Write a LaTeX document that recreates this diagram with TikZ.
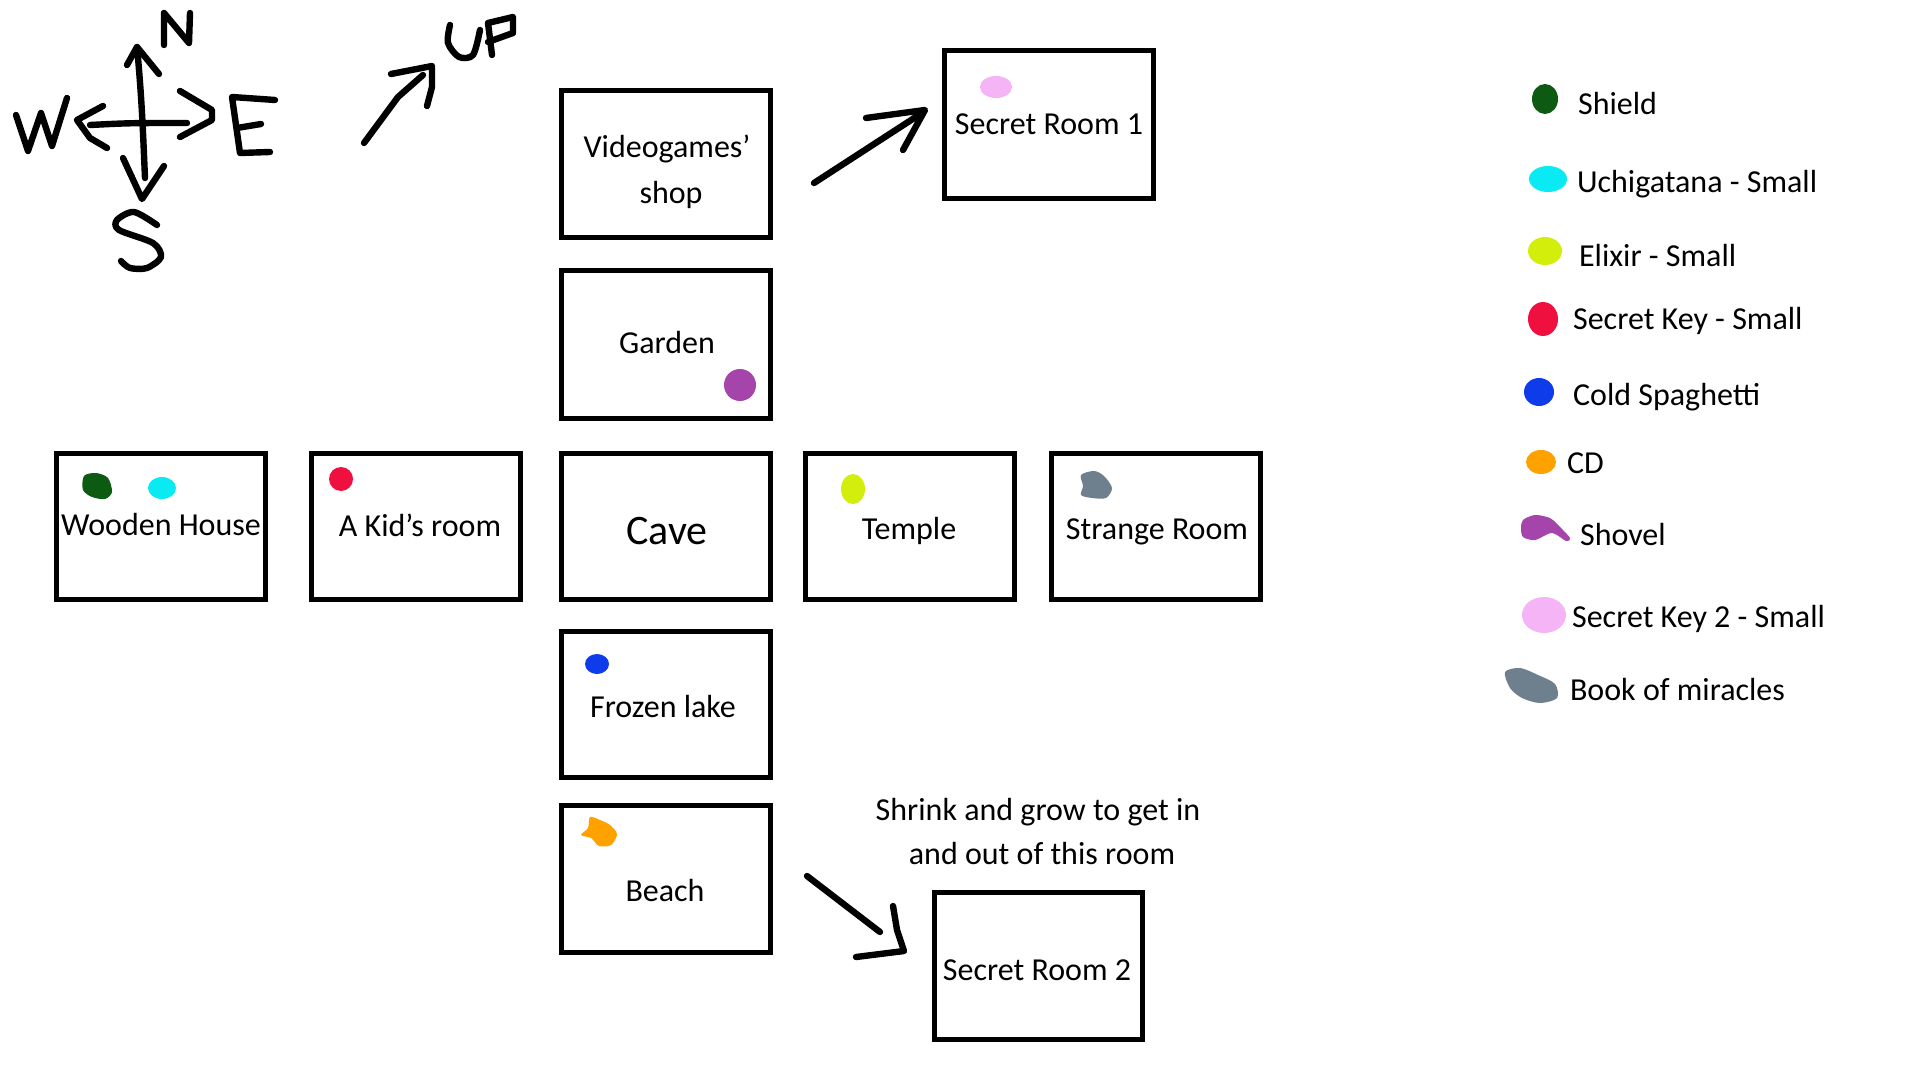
\documentclass[tikz,border=0pt]{standalone}
\usepackage{fontspec}
\setmainfont{Carlito}
\usepackage{tikz}
\usetikzlibrary{shapes.geometric}
\definecolor{shieldgreen}{HTML}{0D5A12}
\definecolor{swordcyan}{HTML}{0AEAF2}
\definecolor{elixirlime}{HTML}{D2EE0A}
\definecolor{keyred}{HTML}{F0103F}
\definecolor{spaghettiblue}{HTML}{0F3CEB}
\definecolor{cdorange}{HTML}{FFA200}
\definecolor{shovelpurple}{HTML}{A545AB}
\definecolor{keypink}{HTML}{F5B4F5}
\definecolor{bookgrey}{HTML}{6E7F8E}
\tikzset{
    roomtext/.style={font=\fontsize{16}{18}\selectfont, align=center},
    legendtext/.style={font=\fontsize{16}{18}\selectfont, anchor=west},
    room/.style={draw, line width=2.5pt},
    ink/.style={line width=3.2pt, line cap=round, line join=round},
    blob/.style={ellipse, inner sep=0pt}
}
\begin{document}
\begin{tikzpicture}[x=0.5pt,y=-0.5pt]
    \useasboundingbox (0,0) rectangle (1920,1080);

    % Draw the rooms
    \draw[room] (561,91) rectangle (770,238);
    \node[roomtext] (videogames) at (667,172) {Videogames'\\[5pt]\hspace{4pt}shop};
    \draw[room] (561,271) rectangle (770,418);
    \node[roomtext] (garden) at (667,343) {Garden};
    \draw[room] (56,453) rectangle (265,599);
    \node[roomtext] (wooden) at (161,525) {Wooden House};
    \draw[room] (311,453) rectangle (520,599);
    \node[roomtext] (kid) at (420,525) {A Kid's room};
    \draw[room] (561,453) rectangle (770,599);
    \node[roomtext, font=\fontsize{21}{24}\selectfont] (cave) at (667,531) {Cave};
    \draw[room] (805,453) rectangle (1014,599);
    \node[roomtext] (temple) at (909,531) {Temple};
    \draw[room] (1051,453) rectangle (1260,599);
    \node[roomtext] (strange) at (1157,532) {Strange Room};
    \draw[room] (561,631) rectangle (770,777);
    \node[roomtext] (frozen) at (663,707) {Frozen lake};
    \draw[room] (561,805) rectangle (770,952);
    \node[roomtext] (beach) at (665,890) {Beach};
    \draw[room] (944,51) rectangle (1153,199);
    \node[roomtext] (secretone) at (1049,124) {Secret Room 1};
    \draw[room] (934,892) rectangle (1142,1039);
    \node[roomtext] (secrettwo) at (1037,970) {Secret Room 2};
    \node[roomtext] (shrink) at (1038,812) {Shrink and grow to get in};
    \node[roomtext] (andout) at (1042,853) {and out of this room};

    % Items inside the rooms
    \node[blob, fill=keypink, minimum width=16pt, minimum height=11pt] (pinkroom) at (996,87) {};
    \node[blob, fill=shovelpurple, minimum width=16pt, minimum height=16pt] (purpleroom) at (740,385) {};
    \fill[shieldgreen] plot[smooth cycle] coordinates {(84,476) (96,473) (108,478) (112,492) (105,499) (92,497) (83,490)};
    \node[blob, fill=swordcyan, minimum width=14pt, minimum height=11pt] (cyanroom) at (162,488) {};
    \node[blob, fill=keyred, minimum width=12pt, minimum height=12pt] (redroom) at (341,479) {};
    \node[blob, fill=elixirlime, minimum width=12pt, minimum height=15pt] (limeroom) at (853,489) {};
    \fill[bookgrey] plot[smooth cycle] coordinates {(1081,475) (1094,471) (1104,476) (1112,488) (1106,498) (1092,498) (1081,495) (1083,486)};
    \node[blob, fill=spaghettiblue, minimum width=12pt, minimum height=10pt] (blueroom) at (597,664) {};
    \fill[cdorange] plot[smooth cycle] coordinates {(590,817) (600,820) (610,825) (617,834) (611,845) (599,846) (591,838) (581,835) (588,828)};

    % Legend
    \node[blob, fill=shieldgreen, minimum width=13pt, minimum height=15pt] (shieldblob) at (1545,99) {};
    \node[legendtext] (shield) at (1571,104) {Shield};
    \node[blob, fill=swordcyan, minimum width=19pt, minimum height=13pt] (swordblob) at (1548,179) {};
    \node[legendtext] (sword) at (1570,184) {Uchigatana - Small};
    \node[blob, fill=elixirlime, minimum width=17pt, minimum height=14pt] (elixirblob) at (1545,251) {};
    \node[legendtext] (elixir) at (1572,256) {Elixir - Small};
    \node[blob, fill=keyred, minimum width=15pt, minimum height=17pt] (keyblob) at (1543,319) {};
    \node[legendtext] (key) at (1566,321) {Secret Key - Small};
    \node[blob, fill=spaghettiblue, minimum width=15pt, minimum height=14pt] (spaghettiblob) at (1539,392) {};
    \node[legendtext] (spaghetti) at (1566,397) {Cold Spaghetti};
    \node[blob, fill=cdorange, minimum width=15pt, minimum height=12pt] (cdblob) at (1541,462) {};
    \node[legendtext] (cd) at (1560,463) {CD};
    \fill[shovelpurple] plot[smooth cycle] coordinates {(1523,520) (1535,515) (1550,518) (1558,525) (1570,538) (1566,541) (1552,533) (1535,540) (1523,537) (1521,528)};
    \node[legendtext] (shovel) at (1573,534) {Shovel};
    \node[blob, fill=keypink, minimum width=22pt, minimum height=18pt] (pinkblob) at (1544,615) {};
    \node[legendtext] (pinkkey) at (1565,619) {Secret Key 2 - Small};
    \fill[bookgrey] plot[smooth cycle] coordinates {(1505,672) (1520,668) (1538,675) (1555,684) (1557,698) (1540,703) (1522,698) (1510,688)};
    \node[legendtext] (book) at (1563,690) {Book of miracles};

    % Compass
    \draw[ink] (137,47) .. controls (142,100) and (143,133) .. (145,178);
    \draw[ink] (127,65) -- (137,47) -- (159,74);
    \draw[ink] (90,125) .. controls (130,123) .. (187,123);
    \draw[ink] (103,106) -- (77,120) -- (90,138) -- (107,148);
    \draw[ink] (180,91) -- (212,110) -- (212,120) -- (180,137);
    \draw[ink] (123,158) -- (142,199) -- (164,166);
    \draw[ink] (164,45) -- (164,13) -- (189,43) -- (190,13);
    \draw[ink] (16,115) -- (28,151) -- (41,113) -- (52,146) -- (67,98);
    \draw[ink] (275,100) -- (232,97) -- (240,153) -- (270,152);
    \draw[ink] (237,128) -- (261,124);
    \draw[ink] plot[smooth] coordinates {(157,225) (134,212) (117,220) (119,230) (153,243) (161,257) (147,268) (130,268) (121,261)};

    % UP arrow
    \draw[ink] (364,143) -- (398,97) -- (423,75);
    \draw[ink] (391,74) -- (432,66) -- (432,87) -- (427,106);
    \draw[ink] plot[smooth] coordinates {(450,25) (448,43) (459,57) (473,55) (480,30)};
    \draw[ink] (492,55) -- (488,23) -- (513,17) -- (513,33) -- (488,42);

    % Arrows to the secret rooms
    \coordinate (shoptail) at (814,183);
    \coordinate (shophead) at (922,113);
    \draw[ink] (shoptail) -- (shophead);
    \draw[ink] (866,118) -- (925,110) -- (903,150);
    \coordinate (beachtail) at (807,876);
    \coordinate (beachhead) at (880,932);
    \draw[ink] (beachtail) -- (beachhead);
    \draw[ink] (893,906) -- (897,930) -- (904,951) -- (856,957);
\end{tikzpicture}
\end{document}
